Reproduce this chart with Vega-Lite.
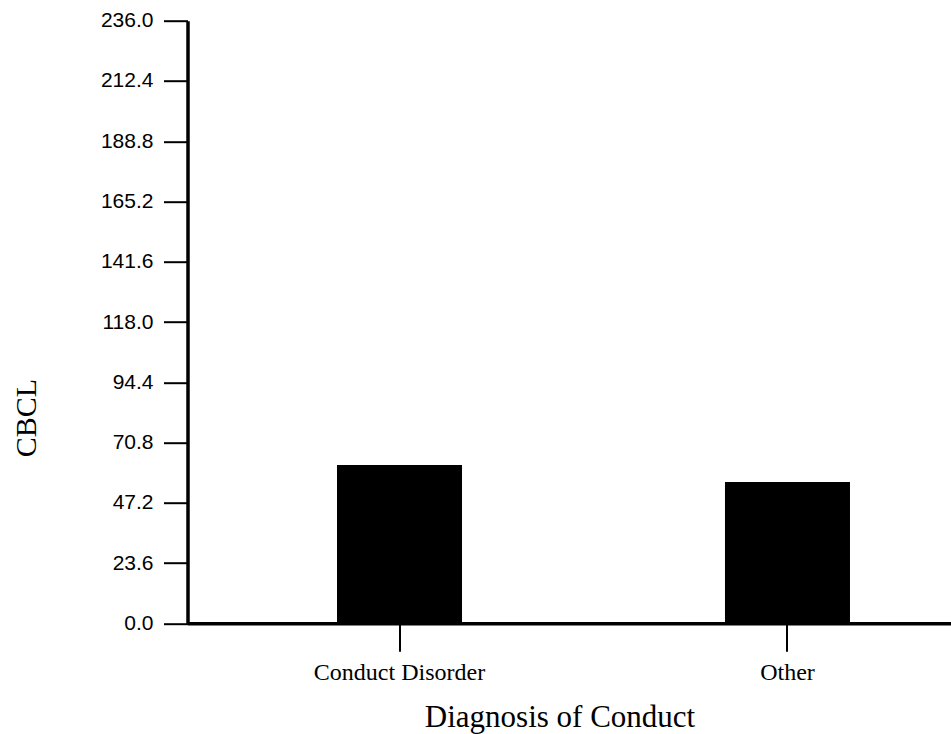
{
  "$schema": "https://vega.github.io/schema/vega-lite/v6.json",
  "width": 764,
  "height": 602.6,
  "autosize": {"type": "none"},
  "padding": {"left": 187.5, "top": 20.7, "right": 0, "bottom": 110.7},
  "background": "white",
  "config": {"view": {"stroke": null}},
  "data": {
    "values": [
      {"diagnosis": "Conduct Disorder", "cbcl": 62.0},
      {"diagnosis": "Other", "cbcl": 55.3}
    ]
  },
  "mark": {"type": "bar", "color": "black"},
  "encoding": {
    "x": {
      "field": "diagnosis",
      "type": "nominal",
      "sort": null,
      "scale": {"paddingInner": 0.6778, "paddingOuter": 0.3235, "align": 0.5956},
      "axis": {
        "title": "Diagnosis of Conduct",
        "titleFont": "Liberation Serif",
        "titleFontSize": 31,
        "titleFontWeight": "normal",
        "titleColor": "black",
        "titleX": 372,
        "titleY": 103.4,
        "titleBaseline": "alphabetic",
        "titleAlign": "center",
        "labelAngle": 0,
        "labelFont": "Liberation Serif",
        "labelFontSize": 24,
        "labelColor": "black",
        "labelBaseline": "alphabetic",
        "labelPadding": 28,
        "tickSize": 28,
        "tickWidth": 2,
        "tickColor": "black",
        "domainColor": "black",
        "domainWidth": 3.5,
        "grid": false
      }
    },
    "y": {
      "field": "cbcl",
      "type": "quantitative",
      "scale": {"domain": [0, 236], "nice": false, "zero": true},
      "axis": {
        "values": [0, 23.6, 47.2, 70.8, 94.4, 118, 141.6, 165.2, 188.8, 212.4, 236],
        "format": ".1f",
        "labelFont": "Liberation Sans",
        "labelFontSize": 21,
        "labelColor": "black",
        "labelPadding": 10.5,
        "tickSize": 24,
        "tickWidth": 2,
        "tickColor": "black",
        "domainColor": "black",
        "domainWidth": 3.5,
        "grid": false,
        "title": "CBCL",
        "titleFont": "Liberation Serif",
        "titleFontSize": 30,
        "titleFontWeight": "normal",
        "titleColor": "black",
        "titleAngle": 270,
        "titleX": -161.5,
        "titleY": 396.8,
        "titleBaseline": "middle",
        "titleAlign": "center"
      }
    }
  }
}
